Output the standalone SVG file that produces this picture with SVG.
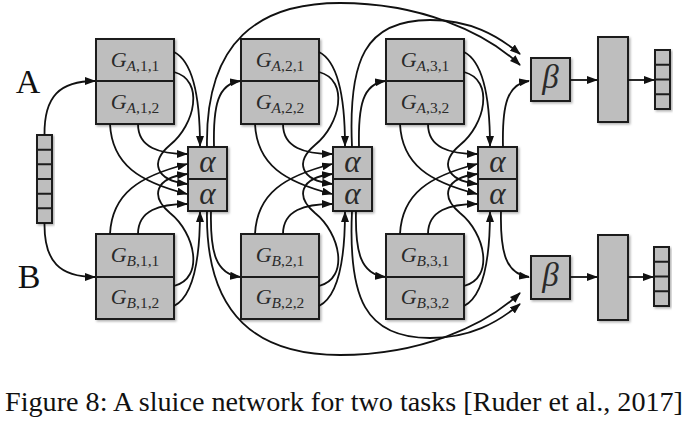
<svg xmlns="http://www.w3.org/2000/svg" width="688" height="421" viewBox="0 0 688 421">
<defs>
<style>
.box{fill:#bebebe;stroke:#1c1c1c;stroke-width:2;filter:url(#sh)}
.div{stroke:#1c1c1c;stroke-width:2}
.ln{fill:none;stroke:#111;stroke-width:1.8;marker-end:url(#ah)}
.arc{fill:none;stroke:#111;stroke-width:1.8;marker-end:url(#ah)}
.g{font-family:"Liberation Serif","DejaVu Serif",serif;font-size:22px;fill:#2a2a2a;text-anchor:middle}
.it{font-style:italic}
.sub{font-size:15.5px}
.gr{font-family:"Liberation Serif","DejaVu Serif",serif;font-style:italic;fill:#2a2a2a;text-anchor:middle}
.lab{font-family:"Liberation Serif","DejaVu Serif",serif;font-size:34px;fill:#111;text-anchor:middle}
.cap{font-family:"Liberation Serif","Times New Roman",serif;font-size:28px;fill:#111}
</style>
<marker id="ah" viewBox="0 0 11 8" refX="10" refY="4" markerWidth="11" markerHeight="8" markerUnits="userSpaceOnUse" orient="auto">
<path d="M0,0 L11,4 L0,8 z" fill="#111"/>
</marker>
<filter id="sh" x="-20%" y="-20%" width="140%" height="140%">
<feDropShadow dx="1.5" dy="1.5" stdDeviation="1.2" flood-color="#000" flood-opacity="0.3"/>
</filter>
</defs>

<text class="lab" x="28" y="93">A</text>
<text class="lab" x="29" y="288">B</text>

<g id="input">
<rect class="box" x="37" y="135" width="15" height="88"/>
<path class="div" d="M37,149.7H52M37,164.3H52M37,179H52M37,193.7H52M37,208.3H52"/>
</g>

<g id="GA1">
<rect class="box" x="96" y="39" width="78" height="85"/>
<line class="div" x1="96" y1="81" x2="174" y2="81"/>
<text class="g" x="135" y="67"><tspan class="it">G</tspan><tspan class="sub" dy="4"><tspan class="it">A</tspan>,1,1</tspan></text>
<text class="g" x="135" y="109"><tspan class="it">G</tspan><tspan class="sub" dy="4"><tspan class="it">A</tspan>,1,2</tspan></text>
</g>
<g id="GB1">
<rect class="box" x="96" y="234" width="78" height="85"/>
<line class="div" x1="96" y1="277" x2="174" y2="277"/>
<text class="g" x="135" y="262"><tspan class="it">G</tspan><tspan class="sub" dy="4"><tspan class="it">B</tspan>,1,1</tspan></text>
<text class="g" x="135" y="304"><tspan class="it">G</tspan><tspan class="sub" dy="4"><tspan class="it">B</tspan>,1,2</tspan></text>
</g>
<g id="GA2">
<rect class="box" x="241" y="39" width="78" height="85"/>
<line class="div" x1="241" y1="81" x2="319" y2="81"/>
<text class="g" x="280" y="67"><tspan class="it">G</tspan><tspan class="sub" dy="4"><tspan class="it">A</tspan>,2,1</tspan></text>
<text class="g" x="280" y="109"><tspan class="it">G</tspan><tspan class="sub" dy="4"><tspan class="it">A</tspan>,2,2</tspan></text>
</g>
<g id="GB2">
<rect class="box" x="241" y="234" width="78" height="85"/>
<line class="div" x1="241" y1="277" x2="319" y2="277"/>
<text class="g" x="280" y="262"><tspan class="it">G</tspan><tspan class="sub" dy="4"><tspan class="it">B</tspan>,2,1</tspan></text>
<text class="g" x="280" y="304"><tspan class="it">G</tspan><tspan class="sub" dy="4"><tspan class="it">B</tspan>,2,2</tspan></text>
</g>
<g id="GA3">
<rect class="box" x="386" y="39" width="78" height="85"/>
<line class="div" x1="386" y1="81" x2="464" y2="81"/>
<text class="g" x="425" y="67"><tspan class="it">G</tspan><tspan class="sub" dy="4"><tspan class="it">A</tspan>,3,1</tspan></text>
<text class="g" x="425" y="109"><tspan class="it">G</tspan><tspan class="sub" dy="4"><tspan class="it">A</tspan>,3,2</tspan></text>
</g>
<g id="GB3">
<rect class="box" x="386" y="234" width="78" height="85"/>
<line class="div" x1="386" y1="277" x2="464" y2="277"/>
<text class="g" x="425" y="262"><tspan class="it">G</tspan><tspan class="sub" dy="4"><tspan class="it">B</tspan>,3,1</tspan></text>
<text class="g" x="425" y="304"><tspan class="it">G</tspan><tspan class="sub" dy="4"><tspan class="it">B</tspan>,3,2</tspan></text>
</g>

<g id="alpha1">
<rect class="box" x="188" y="147" width="39" height="64"/>
<line class="div" x1="188" y1="179" x2="227" y2="179"/>
<text class="gr" x="207.5" y="171.5" font-size="31">α</text>
<text class="gr" x="207.5" y="203.5" font-size="31">α</text>
</g>
<g id="alpha2">
<rect class="box" x="333" y="147" width="39" height="64"/>
<line class="div" x1="333" y1="179" x2="372" y2="179"/>
<text class="gr" x="352.5" y="171.5" font-size="31">α</text>
<text class="gr" x="352.5" y="203.5" font-size="31">α</text>
</g>
<g id="alpha3">
<rect class="box" x="478" y="147" width="39" height="64"/>
<line class="div" x1="478" y1="179" x2="517" y2="179"/>
<text class="gr" x="497.5" y="171.5" font-size="31">α</text>
<text class="gr" x="497.5" y="203.5" font-size="31">α</text>
</g>

<g id="betaA">
<rect class="box" x="531" y="58" width="39" height="43"/>
<text class="gr" x="550.5" y="88" font-size="33">β</text>
</g>
<g id="betaB">
<rect class="box" x="531" y="256" width="39" height="43"/>
<text class="gr" x="550.5" y="286" font-size="33">β</text>
</g>

<g id="hiddenA"><rect class="box" x="598" y="37" width="30" height="85"/></g>
<g id="hiddenB"><rect class="box" x="598" y="235" width="30" height="85"/></g>

<g id="outA">
<rect class="box" x="655" y="50" width="15" height="59"/>
<path class="div" d="M655,64.75H670M655,79.5H670M655,94.25H670"/>
</g>
<g id="outB">
<rect class="box" x="654" y="247" width="15" height="59"/>
<path class="div" d="M654,261.75H669M654,276.5H669M654,291.25H669"/>
</g>

<g id="connectors">
<path class="ln" d="M44.5,135 C44,96 60,81 95,81"/>
<path class="ln" d="M44.5,223 C44,262 60,277 95,277"/>

<g id="layer1-links">
<path class="ln" d="M174,52 C190,60 200,90 200,146"/>
<path class="ln" d="M174,72 C205,80 195,125 170,145 C150,162 155,180 187,184"/>
<path class="ln" d="M138,124 C138,148 160,154 187,154"/>
<path class="ln" d="M110,124 C112,165 140,182 187,194"/>
<path class="ln" d="M174,306 C190,298 200,268 200,212"/>
<path class="ln" d="M174,286 C205,278 195,233 170,213 C150,196 155,178 187,174"/>
<path class="ln" d="M138,234 C138,210 160,204 187,204"/>
<path class="ln" d="M110,234 C112,193 140,176 187,164"/>
<path class="ln" d="M214,147 C213,105 218,84 240,81"/>
<path class="ln" d="M211,211 C210,253 216,274 240,277"/>
</g>
<g id="layer2-links" transform="translate(145,0)">
<path class="ln" d="M174,52 C190,60 200,90 200,146"/>
<path class="ln" d="M174,72 C205,80 195,125 170,145 C150,162 155,180 187,184"/>
<path class="ln" d="M138,124 C138,148 160,154 187,154"/>
<path class="ln" d="M110,124 C112,165 140,182 187,194"/>
<path class="ln" d="M174,306 C190,298 200,268 200,212"/>
<path class="ln" d="M174,286 C205,278 195,233 170,213 C150,196 155,178 187,174"/>
<path class="ln" d="M138,234 C138,210 160,204 187,204"/>
<path class="ln" d="M110,234 C112,193 140,176 187,164"/>
<path class="ln" d="M214,147 C213,105 218,84 240,81"/>
<path class="ln" d="M211,211 C210,253 216,274 240,277"/>
</g>
<g id="layer3-links" transform="translate(290,0)">
<path class="ln" d="M174,52 C190,60 200,90 200,146"/>
<path class="ln" d="M174,72 C205,80 195,125 170,145 C150,162 155,180 187,184"/>
<path class="ln" d="M138,124 C138,148 160,154 187,154"/>
<path class="ln" d="M110,124 C112,165 140,182 187,194"/>
<path class="ln" d="M174,306 C190,298 200,268 200,212"/>
<path class="ln" d="M174,286 C205,278 195,233 170,213 C150,196 155,178 187,174"/>
<path class="ln" d="M138,234 C138,210 160,204 187,204"/>
<path class="ln" d="M110,234 C112,193 140,176 187,164"/>
<path class="ln" d="M213,147 C212,105 217,84 239,81"/>
<path class="ln" d="M211,211 C210,253 216,274 239,277"/>
</g>

<path class="arc" d="M207,147 C205,40 260,3 340,3 C420,3 485,32 520,65"/>
<path class="arc" d="M352,147 C348,60 365,20 430,20 C470,20 497,35 520,54"/>
<path class="arc" d="M207,211 C205,318 260,355 340,355 C420,355 485,326 520,293"/>
<path class="arc" d="M352,211 C348,298 365,338 430,338 C470,338 497,323 520,304"/>

<path class="ln" d="M570,80 H597"/>
<path class="ln" d="M628,80 H654"/>
<path class="ln" d="M570,277 H597"/>
<path class="ln" d="M628,277 H653"/>
</g>

<text class="cap" x="5" y="411" textLength="678" lengthAdjust="spacingAndGlyphs">Figure 8: A sluice network for two tasks [Ruder et al., 2017]</text>
</svg>
